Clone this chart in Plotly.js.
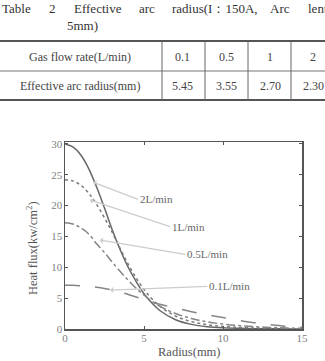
<!DOCTYPE html>
<html>
<head>
<meta charset="utf-8">
<script src="https://cdn.plot.ly/plotly-3.0.1.min.js"></script>
<style>html,body{margin:0;padding:0;background:#fff;}#chart{width:325px;height:361px;}</style>
</head>
<body>
<div id="chart"></div>
<script>
// ---- data ----
var titleWords = ["Table", "2", "Effective", "arc", "radius(I：150A,", "Arc", "lent"];
var titleLine2 = "5mm)";
var rowLabels = ["Gas flow rate(L/min)", "Effective arc radius(mm)"];
var flowRates = ["0.1", "0.5", "1", "2"];
var effRadius = ["5.45", "3.55", "2.70", "2.30"];

var radius = [0,0.5,1,1.5,2,2.5,3,3.5,4,4.5,5,5.5,6,7,8,9,10,11,12,13,14,15];
var flux2L  = [30,29.5,28.2,26,23,19.6,16,12.8,10,7.7,5.7,4.2,3.0,1.5,0.75,0.38,0.2,0.11,0.06,0.03,0.02,0.01];
var flux1L  = [24.2,24.0,23.3,22.0,20.2,18.0,15.6,13.0,10.5,8.3,6.4,4.9,3.7,2.1,1.2,0.7,0.42,0.26,0.16,0.1,0.06,0.04];
var flux05L = [17.2,17.0,16.4,15.4,13.8,12.4,10.8,9.3,7.9,6.6,5.5,4.5,3.7,2.5,1.7,1.15,0.8,0.55,0.38,0.25,0.17,0.12];
var flux01L = [7.1,7.08,7.0,6.9,6.75,6.55,6.3,6.0,5.6,5.2,4.8,4.4,4.0,3.4,2.8,2.3,1.85,1.4,1.0,0.7,0.45,0.28];
var seriesNames = ["2L/min", "1L/min", "0.5L/min", "0.1L/min"];

// ---- layout helpers (pixel -> paper) ----
var W = 325, H = 361;
function X(px){ return px / W; }
function Y(py){ return 1 - py / H; }
var serif = "Liberation Serif, Times New Roman, serif";

var traces = [
  {x: radius, y: flux2L, mode: "lines", name: seriesNames[0], line: {color: "#666", width: 1.5, shape: "spline"}},
  {x: radius, y: flux1L, mode: "lines", name: seriesNames[1], line: {color: "#7a7a7a", width: 1.5, dash: "dot", shape: "spline"}},
  {x: radius, y: flux05L, mode: "lines", name: seriesNames[2], line: {color: "#858585", width: 1.5, dash: "dashdot", shape: "spline"}},
  {x: radius, y: flux01L, mode: "lines", name: seriesNames[3], line: {color: "#858585", width: 1.5, dash: "longdash", shape: "spline"}}
];

var shapes = [];
var annotations = [];
function txt(px, py, text, size, color, anchor){
  annotations.push({xref: "paper", yref: "paper", x: X(px), y: Y(py), xanchor: anchor || "center", yanchor: "middle",
    text: text, showarrow: false, font: {family: serif, size: size, color: color}});
}

// title words (justified line)
var wordX = [0, 47, 72, 137, 170, 268, 306];
titleWords.forEach(function(w, i){ txt(wordX[i], 8, w, 13, "#333", "left"); });
txt(65, 25, titleLine2, 13, "#333", "left");

// table lines
shapes.push({type: "line", xref: "paper", yref: "paper", x0: 0, x1: 1, y0: Y(41), y1: Y(41), line: {color: "#555", width: 2}});
shapes.push({type: "line", xref: "paper", yref: "paper", x0: 0, x1: 1, y0: Y(71), y1: Y(71), line: {color: "#777", width: 1}});
shapes.push({type: "line", xref: "paper", yref: "paper", x0: 0, x1: 1, y0: Y(100), y1: Y(100), line: {color: "#555", width: 2}});
[162, 205, 248, 291].forEach(function(px){
  shapes.push({type: "line", xref: "paper", yref: "paper", x0: X(px), x1: X(px), y0: Y(41), y1: Y(100), line: {color: "#666", width: 1}});
});
var colCenters = [183, 226, 270, 313];
var rowY = [57, 86];
txt(80, rowY[0], rowLabels[0], 12, "#444");
txt(80, rowY[1], rowLabels[1], 12, "#444");
flowRates.forEach(function(v, i){ txt(colCenters[i], rowY[0], v, 12, "#444"); });
effRadius.forEach(function(v, i){ txt(colCenters[i], rowY[1], v, 12, "#444"); });

// curve labels with leader lines
var labelTip = [[1.77, 23.8], [1.58, 20.9], [2.2, 14.4], [2.85, 6.3]];
var labelPos = [[4.62, 21.0], [6.65, 16.6], [7.6, 12.1], [9.0, 6.9]];
seriesNames.forEach(function(n, i){
  annotations.push({xref: "x", yref: "y", axref: "x", ayref: "y",
    x: labelTip[i][0], y: labelTip[i][1], ax: labelPos[i][0], ay: labelPos[i][1],
    xanchor: "left", yanchor: "middle", text: n, showarrow: true,
    arrowhead: 1, arrowsize: 0.8, arrowwidth: 1.3, arrowcolor: "#cccccc", standoff: 0, startstandoff: 0,
    font: {family: serif, size: 11, color: "#666"}});
});

// axis titles
annotations.push({xref: "paper", yref: "paper", x: X(32), y: Y(248), xanchor: "center", yanchor: "middle",
  text: "Heat flux(kw/cm<sup>2</sup>)", textangle: -90, showarrow: false, font: {family: serif, size: 12.5, color: "#555"}});
txt(189, 352, "Radius(mm)", 12.5, "#555");

var axisCommon = {showgrid: false, zeroline: false, showline: true, linecolor: "#555", linewidth: 1.5,
  mirror: "ticks", ticks: "inside", ticklen: 3, tickcolor: "#555", tickwidth: 1,
  tickfont: {family: serif, size: 11, color: "#808080"}};

var layout = {
  width: W, height: H,
  margin: {l: 0, r: 0, t: 0, b: 0},
  paper_bgcolor: "#fff", plot_bgcolor: "#fff",
  showlegend: false,
  xaxis: Object.assign({}, axisCommon, {domain: [X(65), X(302)], range: [0, 15], tickvals: [0, 5, 10, 15], ticktext: ["0","5","10","15"], ticklabelstandoff: -2}),
  yaxis: Object.assign({}, axisCommon, {domain: [Y(329), Y(142)], range: [0, 30.3], tickvals: [0,5,10,15,20,25,30], ticklabelstandoff: -1}),
  shapes: shapes,
  annotations: annotations
};

Plotly.newPlot("chart", traces, layout, {staticPlot: true, displayModeBar: false});
</script>
</body>
</html>
